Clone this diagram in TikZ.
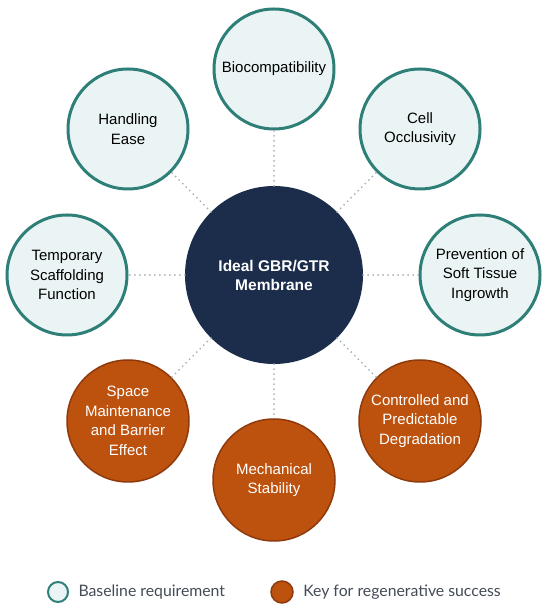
\documentclass[tikz,border=0pt]{standalone}
\usepackage{fontspec}
\setmainfont{Liberation Sans}
\newfontfamily\legendfont{Lato}
\usepackage{xcolor}
\usetikzlibrary{positioning}

\definecolor{navy}{HTML}{1B2D4B}
\definecolor{tealline}{HTML}{2E7F78}
\definecolor{tealfill}{HTML}{EBF4F4}
\definecolor{rust}{HTML}{BD520F}
\definecolor{rustline}{HTML}{8F3A0C}
\definecolor{dotgray}{HTML}{A7AFB7}
\definecolor{legendtext}{HTML}{444B57}

\tikzset{
  hub/.style={circle, fill=navy, minimum size=178pt, inner sep=0pt,
    text=white, font=\bfseries\fontsize{15.5}{19}\selectfont, align=center},
  base/.style={circle, draw=tealline, line width=3pt, fill=tealfill,
    minimum size=120pt, inner sep=0pt, text=black,
    font=\fontsize{15}{19.5}\selectfont, align=center},
  keyreq/.style={circle, draw=rustline, line width=1.5pt, fill=rust,
    minimum size=122pt, inner sep=0pt, text=white,
    font=\fontsize{15}{19.5}\selectfont, align=center},
  link/.style={draw=dotgray, line width=2pt, line cap=round,
    dash pattern=on 0pt off 5pt}
}

\begin{document}
\begin{tikzpicture}[x=1pt, y=1pt]
\useasboundingbox (0,0) rectangle (550,607);
%
\node[hub] (membrane) at (274,332) {Ideal GBR/GTR\\Membrane};
%
\node[base] (bio) at (274,538) {Biocompatibility};
\node[base] (cell) at (420,478) {Cell\\Occlusivity};
\node[base] (soft) at (480,332) {Prevention of\\Soft Tissue\\Ingrowth};
\node[keyreq] (degrade) at (420,186) {Controlled and\\Predictable\\Degradation};
\node[keyreq] (mech) at (274,127) {Mechanical\\Stability};
\node[keyreq] (space) at (128,186) {Space\\Maintenance\\and Barrier\\Effect};
\node[base] (scaffold) at (67,332) {Temporary\\Scaffolding\\Function};
\node[base] (handling) at (128,478) {Handling\\Ease};
%
\foreach \n in {bio,cell,soft,degrade,mech,space,scaffold,handling}
  \draw[link] (membrane) -- (\n);
%
% legend
\node[circle, draw=tealline, line width=2pt, fill=tealfill, minimum size=20pt,
  inner sep=0pt] (keybase) at (58,15) {};
\node[right=6pt of keybase, text=legendtext, font=\legendfont\fontsize{15.8}{18}\selectfont]
  (keybasetext) {Baseline requirement};
\node[circle, draw=rustline, line width=1.5pt, fill=rust, minimum size=22pt,
  inner sep=0pt] (keykey) at (282,15) {};
\node[right=6pt of keykey, text=legendtext, font=\legendfont\fontsize{15.8}{18}\selectfont]
  (keykeytext) {Key for regenerative success};
\end{tikzpicture}
\end{document}
